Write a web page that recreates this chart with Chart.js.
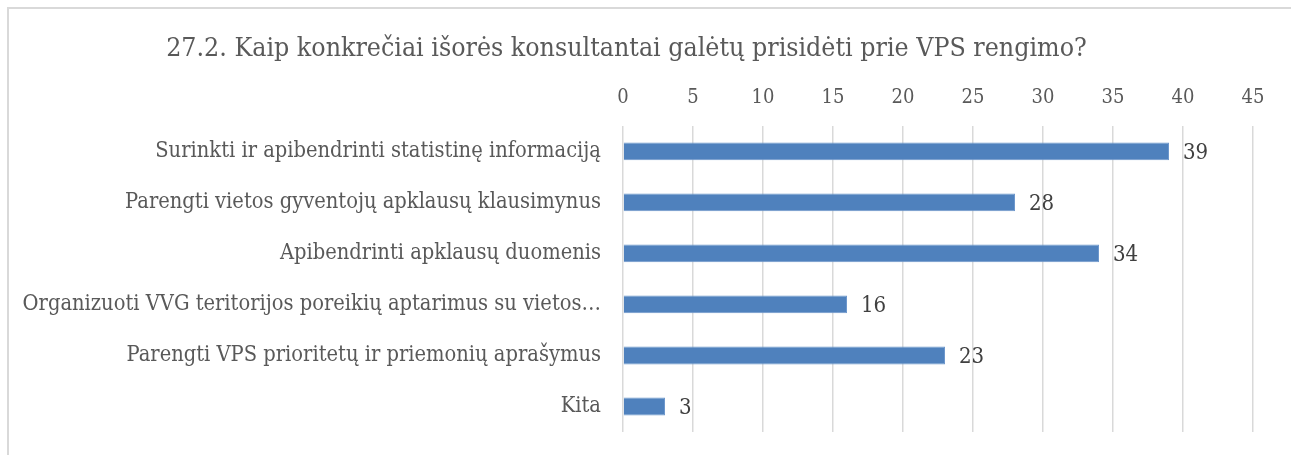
<!DOCTYPE html>
<html>
<head>
<meta charset="utf-8">
<script src="https://cdn.jsdelivr.net/npm/chart.js@4"></script>
<style>
  body { margin: 0; background: #fff; }
  #wrap { position: relative; width: 1291px; height: 455px; }
  #frame { position: absolute; left: 7px; top: 7px; right: 0; bottom: -5px; border-left: 2px solid #d9d9d9; border-top: 2px solid #d9d9d9; }
  canvas { position: absolute; left: 0; top: 0; }
</style>
</head>
<body>
<div id="wrap">
  <div id="frame"></div>
  <canvas id="chart" width="1291" height="455"></canvas>
</div>
<script>
const chartTitle = "27.2. Kaip konkrečiai išorės konsultantai galėtų prisidėti prie VPS rengimo?";
const categories = [
    "Surinkti ir apibendrinti statistinę informaciją",
    "Parengti vietos gyventojų apklausų klausimynus",
    "Apibendrinti apklausų duomenis",
    "Organizuoti VVG teritorijos poreikių aptarimus su vietos…",
    "Parengti VPS prioritetų ir priemonių aprašymus",
    "Kita"
];
const answerCounts = [39, 28, 34, 16, 23, 3];
const axisMax = 45;
const axisStep = 5;

const fontFamily = "'DejaVu Serif Condensed', 'DejaVu Serif', serif";

// value labels to the right of each bar
const valueLabels = {
    id: "valueLabels",
    afterDatasetsDraw(chart) {
        const ctx = chart.ctx;
        const meta = chart.getDatasetMeta(0);
        ctx.save();
        ctx.font = "22px " + fontFamily;
        ctx.fillStyle = "#404040";
        ctx.textAlign = "left";
        ctx.textBaseline = "middle";
        meta.data.forEach((bar, i) => {
            ctx.fillText(String(answerCounts[i]), bar.x + 14, bar.y + 2);
        });
        ctx.restore();
    }
};

const ctx = document.getElementById("chart").getContext("2d");
new Chart(ctx, {
    type: "bar",
    data: {
        labels: categories,
        datasets: [{
            data: answerCounts,
            backgroundColor: "#4f81bd",
            borderColor: "#6d97cc",
            borderWidth: 1,
            barPercentage: 0.5,
            categoryPercentage: 0.7
        }]
    },
    options: {
        indexAxis: "y",
        responsive: false,
        animation: false,
        layout: { padding: { left: 0, right: 38, top: 0, bottom: 23 } },
        plugins: {
            legend: { display: false },
            tooltip: { enabled: false },
            title: {
                display: true,
                text: chartTitle,
                color: "#595959",
                font: { family: fontFamily, size: 26.5, weight: "normal" },
                padding: { top: 33, bottom: 2 }
            }
        },
        scales: {
            x: {
                position: "top",
                min: 0,
                max: axisMax,
                ticks: {
                    stepSize: axisStep,
                    color: "#595959",
                    font: { family: fontFamily, size: 20 },
                    padding: 16
                },
                grid: { color: "#d9d9d9", lineWidth: 1.5, drawTicks: false },
                border: { display: false },
                afterFit(scale) { scale.height = 126 - 67; }
            },
            y: {
                ticks: {
                    color: "#595959",
                    font: { family: fontFamily, size: 21.7 },
                    padding: 22
                },
                grid: { display: false, drawTicks: false },
                border: { display: false },
                afterFit(scale) {
                    scale.width = 623;
                    scale.paddingTop = 0;
                    scale.paddingBottom = 0;
                }
            }
        }
    },
    plugins: [valueLabels]
});
</script>
</body>
</html>
